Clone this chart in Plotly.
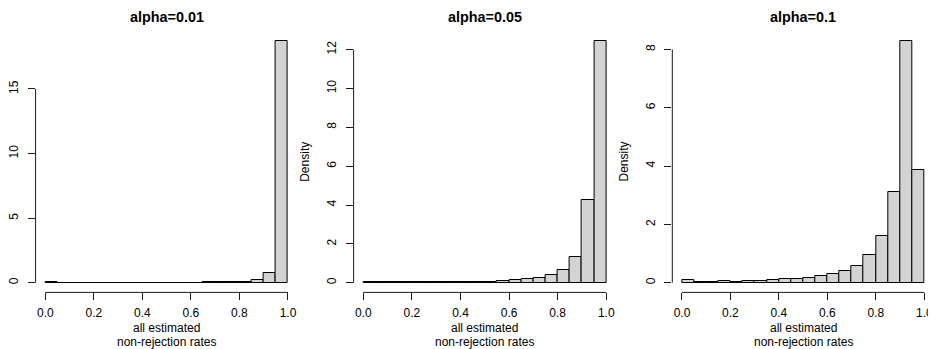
import plotly.graph_objects as go

# ---- data -------------------------------------------------------------
bin_starts = [0.00, 0.05, 0.10, 0.15, 0.20, 0.25, 0.30, 0.35, 0.40, 0.45,
              0.50, 0.55, 0.60, 0.65, 0.70, 0.75, 0.80, 0.85, 0.90, 0.95]
bin_width = 0.05

titles = ["alpha=0.01", "alpha=0.05", "alpha=0.1"]

density_a001 = [0.02, 0.015, 0.015, 0.012, 0.012, 0.012, 0.012, 0.012, 0.012, 0.012,
                0.012, 0.012, 0.015, 0.02, 0.03, 0.04, 0.07, 0.22, 0.76, 18.74]
density_a005 = [0.05, 0.035, 0.03, 0.04, 0.03, 0.03, 0.03, 0.03, 0.035, 0.035,
                0.04, 0.09, 0.14, 0.17, 0.24, 0.41, 0.65, 1.30, 4.28, 12.46]
density_a01 = [0.08, 0.034, 0.023, 0.057, 0.034, 0.057, 0.057, 0.08, 0.114, 0.14,
               0.16, 0.24, 0.30, 0.39, 0.59, 0.95, 1.61, 3.10, 8.30, 3.86]

x_tickvals = [0.0, 0.2, 0.4, 0.6, 0.8, 1.0]
x_ticktext = ["0.0", "0.2", "0.4", "0.6", "0.8", "1.0"]
y_ticks = [[0, 5, 10, 15], [0, 2, 4, 6, 8, 10, 12], [0, 2, 4, 6, 8]]

xlabel_lines = ["all estimated", "non-rejection rates"]
ylabel = "Density"
show_ylabel = [False, True, True]

series = [density_a001, density_a005, density_a01]

# ---- layout geometry (pixels in the 936x349 window) --------------------
WIN_W, WIN_H = 936, 349
OFF = 8                      # default page body margin
W, H = WIN_W - OFF, WIN_H - OFF
panel_px = [(35.6, 297.7), (353.6, 616.0), (672.3, 934.0)]
top_px, bottom_px = 31.0, 292.4

def px_x(p):
    return (p - OFF) / W

def px_y(p):
    return 1 - (p - OFF) / H

FONT = "Liberation Sans, Arial, Helvetica, sans-serif"
LINE = "#1a1a1a"

fig = go.Figure()
layout = dict(
    width=W, height=H,
    margin=dict(l=0, r=0, t=0, b=0),
    paper_bgcolor="white", plot_bgcolor="white",
    showlegend=False, bargap=0,
    font=dict(family=FONT, size=12, color="black"),
)
annotations = []
shapes = []

centers = [b + bin_width / 2 for b in bin_starts]

for i, vals in enumerate(series):
    n = "" if i == 0 else str(i + 1)
    xa, ya = "x" + n, "y" + n
    fig.add_trace(go.Bar(
        x=centers, y=vals, width=bin_width,
        marker=dict(color="#D3D3D3", line=dict(color="black", width=1)),
        xaxis=xa, yaxis=ya, hoverinfo="skip",
    ))
    ymax = max(vals)
    x0p, x1p = panel_px[i]
    layout["xaxis" + n] = dict(
        domain=[px_x(x0p), px_x(x1p)], anchor=ya,
        range=[-0.04, 1.04], tickvals=x_tickvals, ticktext=x_ticktext,
        ticks="outside", ticklen=7, tickwidth=1, tickcolor=LINE,
        showline=False, showgrid=False, zeroline=False,
        tickfont=dict(family=FONT, size=12, color="black"),
        ticklabelstandoff=2, fixedrange=True,
    )
    layout["yaxis" + n] = dict(
        domain=[px_y(bottom_px), px_y(top_px)], anchor=xa,
        range=[-0.04 * ymax, 1.04 * ymax], tickvals=y_ticks[i],
        ticktext=[str(t) for t in y_ticks[i]],
        ticks="outside", ticklen=7, tickwidth=1, tickcolor=LINE,
        showline=False, showgrid=False, zeroline=False, tickangle=-90,
        tickfont=dict(family=FONT, size=12, color="black"),
        ticklabelstandoff=5, fixedrange=True,
    )
    # R-style axis lines spanning first to last tick
    shapes.append(dict(type="line", xref=xa, yref=ya + " domain",
                       x0=x_tickvals[0], x1=x_tickvals[-1], y0=0, y1=0,
                       line=dict(color=LINE, width=1)))
    shapes.append(dict(type="line", xref=xa + " domain", yref=ya,
                       x0=0, x1=0, y0=y_ticks[i][0], y1=y_ticks[i][-1],
                       line=dict(color=LINE, width=1)))
    cx = px_x((x0p + x1p) / 2)
    annotations.append(dict(text="<b>%s</b>" % titles[i], x=cx, y=px_y(17.3),
                            xref="paper", yref="paper", showarrow=False,
                            xanchor="center", yanchor="middle",
                            font=dict(family=FONT, size=14.4, color="black")))
    for line, yy in zip(xlabel_lines, [328.3, 341.5]):
        annotations.append(dict(text=line, x=cx, y=px_y(yy), xref="paper", yref="paper",
                                showarrow=False, xanchor="center", yanchor="middle",
                                font=dict(family=FONT, size=12, color="black")))
    if show_ylabel[i]:
        annotations.append(dict(text=ylabel, x=px_x(x0p - 48.5),
                                y=px_y((top_px + bottom_px) / 2),
                                xref="paper", yref="paper", showarrow=False,
                                textangle=-90, xanchor="center", yanchor="middle",
                                font=dict(family=FONT, size=12, color="black")))

layout["annotations"] = annotations
layout["shapes"] = shapes
fig.update_layout(**layout)
fig.write_html("out.html")
